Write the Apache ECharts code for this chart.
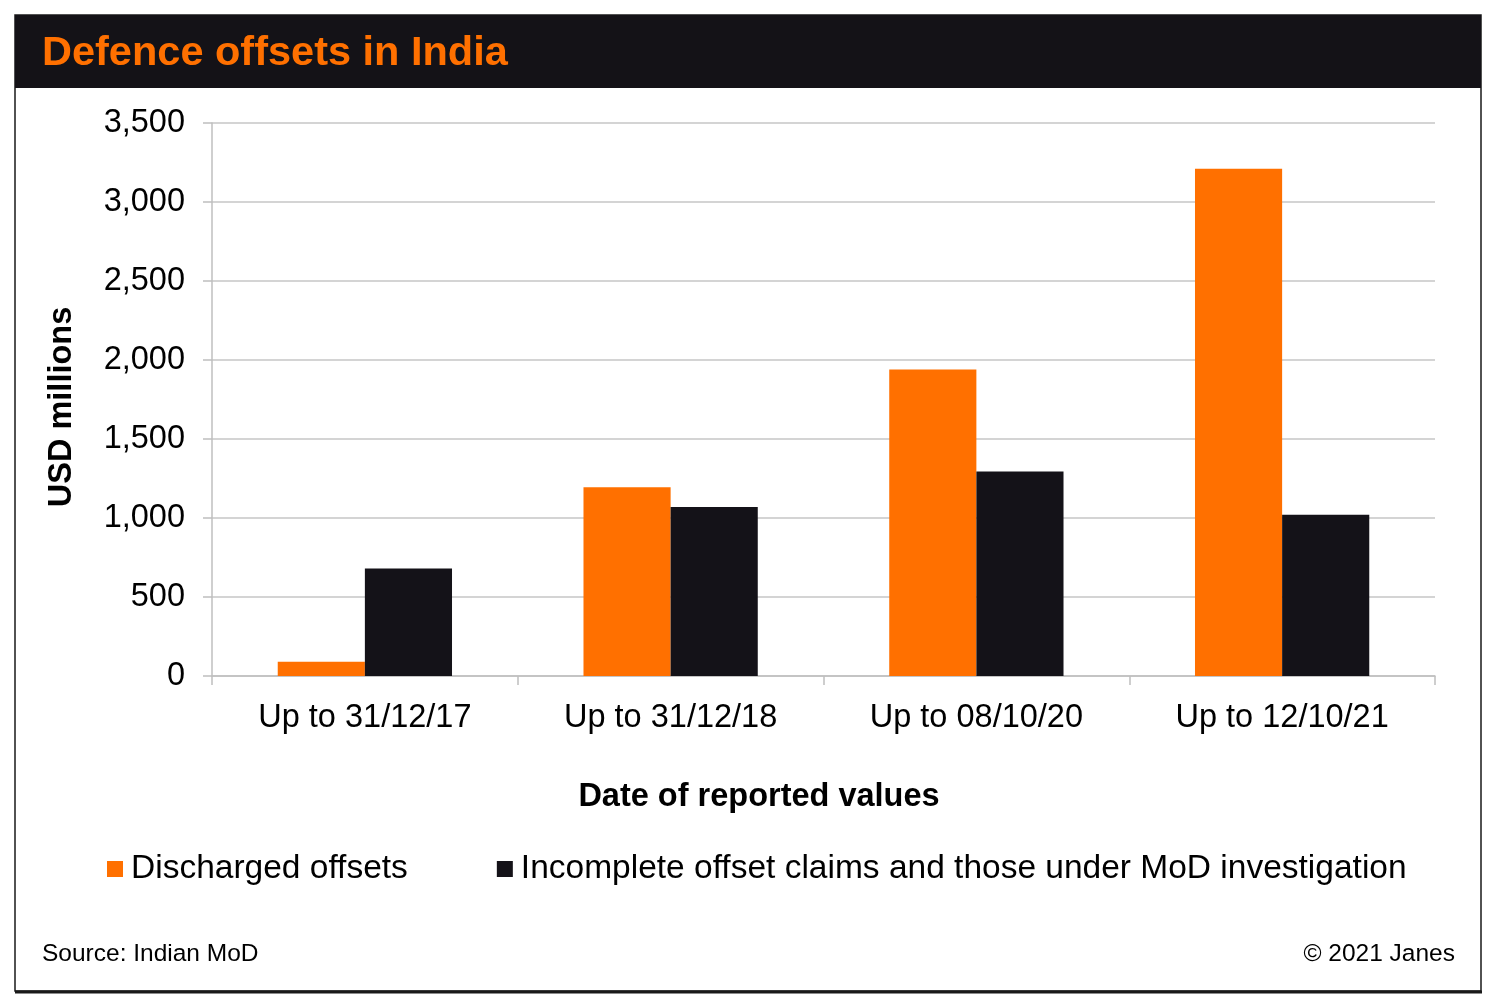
<!DOCTYPE html>
<html>
<head>
<meta charset="utf-8">
<title>Defence offsets in India</title>
<script src="https://cdn.jsdelivr.net/npm/echarts@6/dist/echarts.min.js"></script>
<style>
  html, body { margin: 0; padding: 0; background: #ffffff; }
  #chart { width: 1492px; height: 999px; }
</style>
</head>
<body>
<div id="chart"></div>
<script>
const categories = ["Up to 31/12/17", "Up to 31/12/18", "Up to 08/10/20", "Up to 12/10/21"];
const discharged = [90, 1195, 1940, 3210];
const incomplete = [680, 1070, 1295, 1020];
const yTicks = { min: 0, max: 3500, interval: 500 };

const ORANGE = "#ff7000";
const DARK = "#141218";
const FONT = "'Liberation Sans', Arial, sans-serif";

const chart = echarts.init(document.getElementById("chart"));

const option = {
  backgroundColor: "#ffffff",
  animation: false,
  textStyle: { fontFamily: FONT },
  grid: { left: 212, right: 57, top: 123, bottom: 323, containLabel: false },
  legend: {
    left: 102,
    top: 847,
    itemWidth: 16,
    itemHeight: 16,
    itemGap: 89,
    icon: "rect",
    textStyle: { fontFamily: FONT, fontSize: 33.5, color: "#000", padding: [0, 0, 0, 3] },
    data: ["Discharged offsets", "Incomplete offset claims and those under MoD investigation"],
  },
  xAxis: {
    type: "category",
    data: categories,
    axisLine: { lineStyle: { color: "#bfbfbf", width: 1.5 } },
    axisTick: { show: true, length: 9, alignWithLabel: false, lineStyle: { color: "#bfbfbf", width: 1.5 } },
    axisLabel: { fontFamily: FONT, fontSize: 32.5, color: "#000", margin: 26 },
  },
  yAxis: {
    type: "value",
    min: yTicks.min,
    max: yTicks.max,
    interval: yTicks.interval,
    axisLine: { show: true, lineStyle: { color: "#bfbfbf", width: 1.5 } },
    axisTick: { show: true, length: 9, lineStyle: { color: "#bfbfbf", width: 1.5 } },
    splitLine: { lineStyle: { color: "#c6c6c6", width: 1.5 } },
    axisLabel: {
      fontFamily: FONT,
      fontSize: 32.5,
      color: "#000",
      margin: 27,
      formatter: (v) => v.toLocaleString("en-US"),
    },
  },
  series: [
    {
      name: "Discharged offsets",
      type: "bar",
      data: discharged,
      itemStyle: { color: ORANGE },
      barGap: "0%",
      barCategoryGap: "43%",
    },
    {
      name: "Incomplete offset claims and those under MoD investigation",
      type: "bar",
      data: incomplete,
      itemStyle: { color: DARK },
    },
  ],
  graphic: [
    {
      type: "rect",
      shape: { x: 15, y: 15, width: 1466, height: 976 },
      style: { fill: "none", stroke: "#1a1a1a", lineWidth: 1.5 },
      silent: true,
    },
    {
      type: "line",
      shape: { x1: 15, y1: 992, x2: 1482, y2: 992 },
      style: { stroke: "#1a1a1a", lineWidth: 3 },
      silent: true,
    },
    {
      type: "rect",
      shape: { x: 15, y: 15, width: 1466, height: 73 },
      style: { fill: "#141217" },
      silent: true,
    },
    {
      type: "text",
      x: 42,
      y: 54,
      style: {
        text: "Defence offsets in India",
        fill: ORANGE,
        font: "bold 41.5px " + FONT,
        textVerticalAlign: "middle",
      },
    },
    {
      type: "text",
      x: 62,
      y: 407,
      rotation: Math.PI / 2,
      style: {
        text: "USD millions",
        fill: "#000",
        font: "bold 32.5px " + FONT,
        textAlign: "center",
        textVerticalAlign: "middle",
      },
    },
    {
      type: "text",
      x: 759,
      y: 797,
      style: {
        text: "Date of reported values",
        fill: "#000",
        font: "bold 32.5px " + FONT,
        textAlign: "center",
        textVerticalAlign: "middle",
      },
    },
    {
      type: "text",
      x: 42,
      y: 954,
      style: {
        text: "Source: Indian MoD",
        fill: "#000",
        font: "24.5px " + FONT,
        textVerticalAlign: "middle",
      },
    },
    {
      type: "text",
      x: 1455,
      y: 954,
      style: {
        text: "\u00a9 2021 Janes",
        fill: "#000",
        font: "24.5px " + FONT,
        textAlign: "right",
        textVerticalAlign: "middle",
      },
    },
  ],
};

chart.setOption(option);
</script>
</body>
</html>
